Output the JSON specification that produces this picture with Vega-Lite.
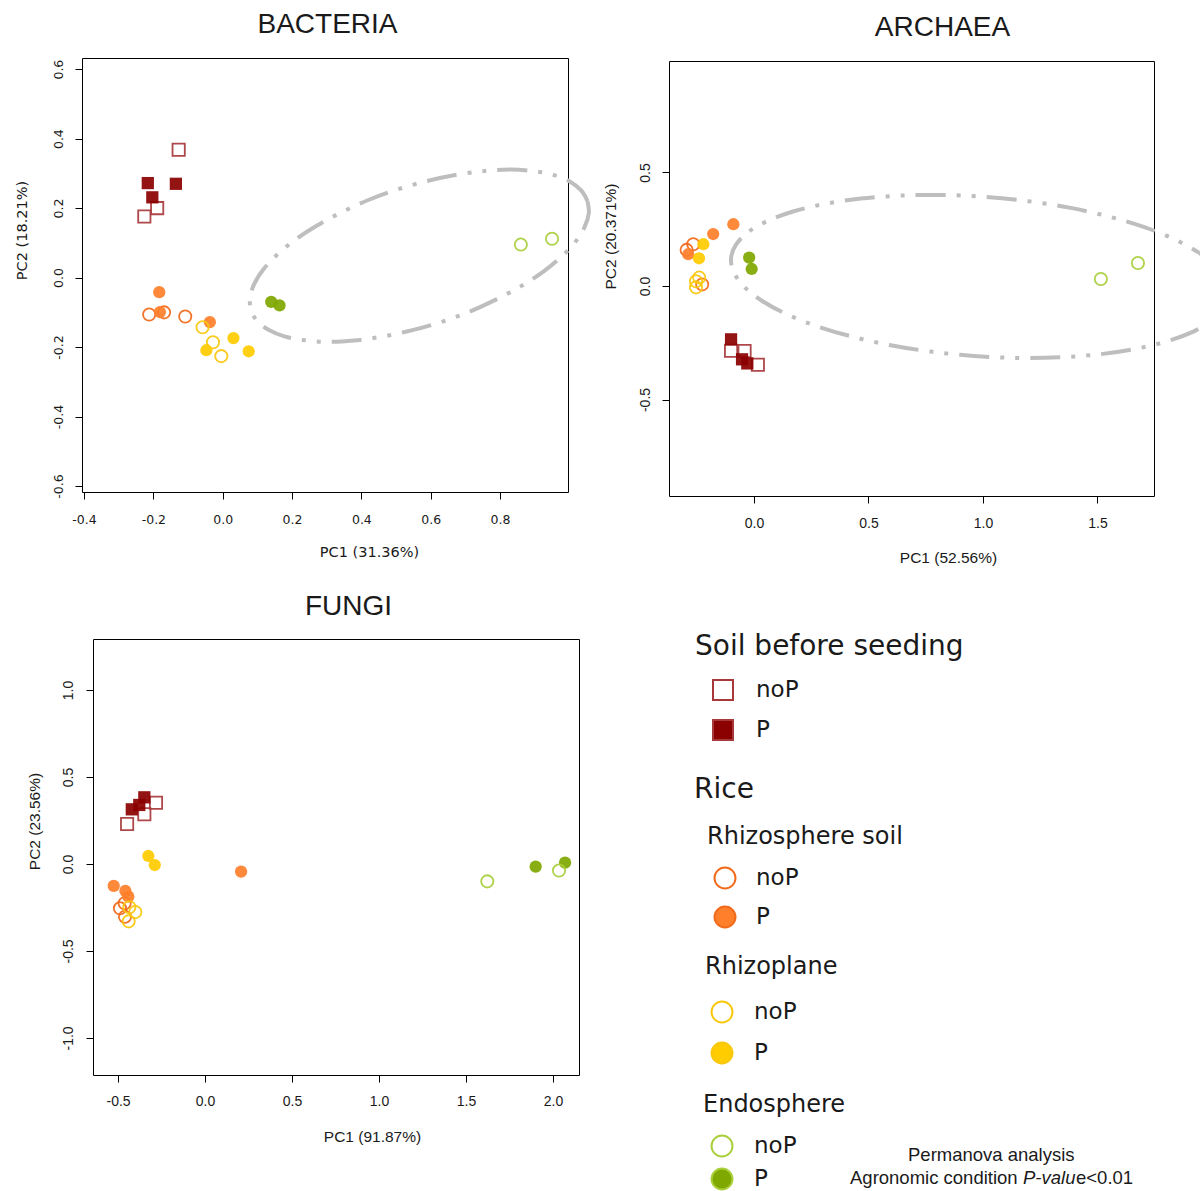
{
  "$schema": "https://vega.github.io/schema/vega-lite/v6.json",
  "width": 1200,
  "height": 1191,
  "padding": 0,
  "autosize": {"type": "none"},
  "background": "white",
  "datasets": {
    "bac": [
      {"x": -0.127, "y": 0.368, "group": "Soil", "cond": "noP"},
      {"x": -0.189, "y": 0.200, "group": "Soil", "cond": "noP"},
      {"x": -0.226, "y": 0.176, "group": "Soil", "cond": "noP"},
      {"x": -0.216, "y": 0.272, "group": "Soil", "cond": "P"},
      {"x": -0.135, "y": 0.270, "group": "Soil", "cond": "P"},
      {"x": -0.203, "y": 0.231, "group": "Soil", "cond": "P"},
      {"x": -0.212, "y": -0.106, "group": "Rhizosphere", "cond": "noP"},
      {"x": -0.169, "y": -0.100, "group": "Rhizosphere", "cond": "noP"},
      {"x": -0.108, "y": -0.112, "group": "Rhizosphere", "cond": "noP"},
      {"x": -0.183, "y": -0.042, "group": "Rhizosphere", "cond": "P"},
      {"x": -0.181, "y": -0.099, "group": "Rhizosphere", "cond": "P"},
      {"x": -0.037, "y": -0.128, "group": "Rhizosphere", "cond": "P"},
      {"x": -0.058, "y": -0.143, "group": "Rhizoplane", "cond": "noP"},
      {"x": -0.028, "y": -0.186, "group": "Rhizoplane", "cond": "noP"},
      {"x": -0.004, "y": -0.226, "group": "Rhizoplane", "cond": "noP"},
      {"x": 0.031, "y": -0.174, "group": "Rhizoplane", "cond": "P"},
      {"x": -0.047, "y": -0.209, "group": "Rhizoplane", "cond": "P"},
      {"x": 0.075, "y": -0.212, "group": "Rhizoplane", "cond": "P"},
      {"x": 0.140, "y": -0.070, "group": "Endosphere", "cond": "P"},
      {"x": 0.164, "y": -0.080, "group": "Endosphere", "cond": "P"},
      {"x": 0.860, "y": 0.095, "group": "Endosphere", "cond": "noP"},
      {"x": 0.950, "y": 0.112, "group": "Endosphere", "cond": "noP"}
    ],
    "arc": [
      {"x": -0.294, "y": 0.159, "group": "Rhizosphere", "cond": "noP"},
      {"x": -0.265, "y": 0.184, "group": "Rhizosphere", "cond": "noP"},
      {"x": -0.226, "y": 0.007, "group": "Rhizosphere", "cond": "noP"},
      {"x": -0.090, "y": 0.272, "group": "Rhizosphere", "cond": "P"},
      {"x": -0.178, "y": 0.229, "group": "Rhizosphere", "cond": "P"},
      {"x": -0.287, "y": 0.140, "group": "Rhizosphere", "cond": "P"},
      {"x": -0.253, "y": 0.021, "group": "Rhizoplane", "cond": "noP"},
      {"x": -0.239, "y": 0.037, "group": "Rhizoplane", "cond": "noP"},
      {"x": -0.253, "y": -0.006, "group": "Rhizoplane", "cond": "noP"},
      {"x": -0.221, "y": 0.184, "group": "Rhizoplane", "cond": "P"},
      {"x": -0.240, "y": 0.122, "group": "Rhizoplane", "cond": "P"},
      {"x": -0.021, "y": 0.125, "group": "Endosphere", "cond": "P"},
      {"x": -0.010, "y": 0.075, "group": "Endosphere", "cond": "P"},
      {"x": 1.515, "y": 0.031, "group": "Endosphere", "cond": "noP"},
      {"x": 1.677, "y": 0.101, "group": "Endosphere", "cond": "noP"},
      {"x": -0.100, "y": -0.285, "group": "Soil", "cond": "noP"},
      {"x": -0.041, "y": -0.286, "group": "Soil", "cond": "noP"},
      {"x": 0.017, "y": -0.347, "group": "Soil", "cond": "noP"},
      {"x": -0.100, "y": -0.235, "group": "Soil", "cond": "P"},
      {"x": -0.052, "y": -0.323, "group": "Soil", "cond": "P"},
      {"x": -0.029, "y": -0.341, "group": "Soil", "cond": "P"}
    ],
    "fun": [
      {"x": -0.282, "y": 0.352, "group": "Soil", "cond": "noP"},
      {"x": -0.349, "y": 0.286, "group": "Soil", "cond": "noP"},
      {"x": -0.448, "y": 0.230, "group": "Soil", "cond": "noP"},
      {"x": -0.349, "y": 0.383, "group": "Soil", "cond": "P"},
      {"x": -0.421, "y": 0.314, "group": "Soil", "cond": "P"},
      {"x": -0.378, "y": 0.339, "group": "Soil", "cond": "P"},
      {"x": -0.489, "y": -0.255, "group": "Rhizosphere", "cond": "noP"},
      {"x": -0.462, "y": -0.226, "group": "Rhizosphere", "cond": "noP"},
      {"x": -0.460, "y": -0.303, "group": "Rhizosphere", "cond": "noP"},
      {"x": 0.207, "y": -0.044, "group": "Rhizosphere", "cond": "P"},
      {"x": -0.525, "y": -0.126, "group": "Rhizosphere", "cond": "P"},
      {"x": -0.458, "y": -0.155, "group": "Rhizosphere", "cond": "P"},
      {"x": -0.441, "y": -0.188, "group": "Rhizosphere", "cond": "P"},
      {"x": -0.435, "y": -0.249, "group": "Rhizoplane", "cond": "noP"},
      {"x": -0.401, "y": -0.276, "group": "Rhizoplane", "cond": "noP"},
      {"x": -0.439, "y": -0.330, "group": "Rhizoplane", "cond": "noP"},
      {"x": -0.326, "y": 0.046, "group": "Rhizoplane", "cond": "P"},
      {"x": -0.289, "y": -0.006, "group": "Rhizoplane", "cond": "P"},
      {"x": 1.900, "y": -0.015, "group": "Endosphere", "cond": "P"},
      {"x": 2.069, "y": 0.008, "group": "Endosphere", "cond": "P"},
      {"x": 2.034, "y": -0.038, "group": "Endosphere", "cond": "noP"},
      {"x": 1.622, "y": -0.100, "group": "Endosphere", "cond": "noP"}
    ],
    "ell_bac": [
      {"i": 0, "x": 1.052, "y": 0.221}, {"i": 1, "x": 1.034, "y": 0.251}, {"i": 2, "x": 1.002, "y": 0.276},
      {"i": 3, "x": 0.956, "y": 0.295}, {"i": 4, "x": 0.899, "y": 0.306}, {"i": 5, "x": 0.831, "y": 0.311},
      {"i": 6, "x": 0.756, "y": 0.307}, {"i": 7, "x": 0.675, "y": 0.296}, {"i": 8, "x": 0.590, "y": 0.278},
      {"i": 9, "x": 0.505, "y": 0.254}, {"i": 10, "x": 0.422, "y": 0.224}, {"i": 11, "x": 0.343, "y": 0.188},
      {"i": 12, "x": 0.271, "y": 0.149}, {"i": 13, "x": 0.208, "y": 0.108}, {"i": 14, "x": 0.156, "y": 0.065},
      {"i": 15, "x": 0.116, "y": 0.022}, {"i": 16, "x": 0.090, "y": -0.020}, {"i": 17, "x": 0.079, "y": -0.059},
      {"i": 18, "x": 0.082, "y": -0.095}, {"i": 19, "x": 0.100, "y": -0.125}, {"i": 20, "x": 0.132, "y": -0.150},
      {"i": 21, "x": 0.178, "y": -0.169}, {"i": 22, "x": 0.235, "y": -0.180}, {"i": 23, "x": 0.303, "y": -0.185},
      {"i": 24, "x": 0.378, "y": -0.181}, {"i": 25, "x": 0.459, "y": -0.170}, {"i": 26, "x": 0.544, "y": -0.152},
      {"i": 27, "x": 0.629, "y": -0.128}, {"i": 28, "x": 0.712, "y": -0.098}, {"i": 29, "x": 0.791, "y": -0.062},
      {"i": 30, "x": 0.863, "y": -0.023}, {"i": 31, "x": 0.926, "y": 0.018}, {"i": 32, "x": 0.978, "y": 0.061},
      {"i": 33, "x": 1.018, "y": 0.104}, {"i": 34, "x": 1.044, "y": 0.146}, {"i": 35, "x": 1.056, "y": 0.185},
      {"i": 36, "x": 1.052, "y": 0.221}
    ],
    "ell_arc": [
      {"i": 0, "x": 2.017, "y": 0.087}, {"i": 1, "x": 1.941, "y": 0.148}, {"i": 2, "x": 1.836, "y": 0.206},
      {"i": 3, "x": 1.705, "y": 0.259}, {"i": 4, "x": 1.553, "y": 0.305}, {"i": 5, "x": 1.383, "y": 0.344},
      {"i": 6, "x": 1.201, "y": 0.373}, {"i": 7, "x": 1.013, "y": 0.392}, {"i": 8, "x": 0.824, "y": 0.401},
      {"i": 9, "x": 0.639, "y": 0.398}, {"i": 10, "x": 0.466, "y": 0.385}, {"i": 11, "x": 0.308, "y": 0.361},
      {"i": 12, "x": 0.171, "y": 0.328}, {"i": 13, "x": 0.058, "y": 0.286}, {"i": 14, "x": -0.026, "y": 0.237},
      {"i": 15, "x": -0.079, "y": 0.181}, {"i": 16, "x": -0.100, "y": 0.122}, {"i": 17, "x": -0.088, "y": 0.060},
      {"i": 18, "x": -0.043, "y": -0.003}, {"i": 19, "x": 0.033, "y": -0.064}, {"i": 20, "x": 0.138, "y": -0.122},
      {"i": 21, "x": 0.269, "y": -0.175}, {"i": 22, "x": 0.421, "y": -0.221}, {"i": 23, "x": 0.591, "y": -0.260},
      {"i": 24, "x": 0.773, "y": -0.289}, {"i": 25, "x": 0.961, "y": -0.308}, {"i": 26, "x": 1.150, "y": -0.317},
      {"i": 27, "x": 1.335, "y": -0.314}, {"i": 28, "x": 1.508, "y": -0.301}, {"i": 29, "x": 1.666, "y": -0.277},
      {"i": 30, "x": 1.803, "y": -0.244}, {"i": 31, "x": 1.916, "y": -0.202}, {"i": 32, "x": 2.000, "y": -0.153}
    ]
  },
  "layer": [
    {
      "data": {"name": "ell_bac"},
      "mark": {"type": "line", "stroke": "#BEBEBE", "strokeWidth": 4, "strokeDash": [30, 11, 4, 11, 4, 11], "interpolate": "cardinal", "strokeCap": "butt"},
      "encoding": {
        "x": {"field": "x", "type": "quantitative", "scale": {"domain": [-0.4058, 0.996], "range": [82, 568], "nice": false, "zero": false},
              "axis": {"orient": "top", "offset": -58, "labels": false, "ticks": false, "title": "BACTERIA", "titleFont": "Liberation Sans", "titleFontSize": 28, "titleX": 327, "titleY": -26, "titleAlign": "center", "titleBaseline": "alphabetic", "titleAngle": 0}},
        "y": {"field": "y", "type": "quantitative", "scale": {"domain": [-0.617, 0.632], "range": [492, 58], "nice": false, "zero": false},
              "axis": {"orient": "right", "offset": -632, "labels": false, "ticks": false, "title": null}},
        "order": {"field": "i", "type": "quantitative"}
      }
    },
    {
      "data": {"name": "bac"},
      "mark": {"type": "point", "size": 150, "strokeWidth": 1.8, "opacity": 0.92},
      "encoding": {
        "x": {"field": "x", "type": "quantitative", "scale": {"domain": [-0.4058, 0.996], "range": [82, 568], "nice": false, "zero": false},
              "axis": {"orient": "bottom", "offset": -699, "values": [-0.4, -0.2, 0, 0.2, 0.4, 0.6, 0.8], "format": ".1f", "labelFont": "DejaVu Sans", "labelFontSize": 12.5, "labelPadding": 20,
                       "title": "PC1 (31.36%)", "titleFont": "DejaVu Sans", "titleFontSize": 14.5, "titleX": 369, "titleY": 64, "titleAlign": "center", "titleBaseline": "alphabetic", "titleAngle": 0}},
        "y": {"field": "y", "type": "quantitative", "scale": {"domain": [-0.617, 0.632], "range": [492, 58], "nice": false, "zero": false},
              "axis": {"orient": "left", "offset": -82, "values": [-0.6, -0.4, -0.2, 0, 0.2, 0.4, 0.6], "format": ".1f", "labelFont": "DejaVu Sans", "labelFontSize": 12.5, "labelAngle": 270, "labelPadding": 17,
                       "title": "PC2 (18.21%)", "titleFont": "DejaVu Sans", "titleFontSize": 14.5, "titleX": -60, "titleY": 230, "titleAngle": 270, "titleAlign": "center", "titleBaseline": "middle"}},
        "shape": {"field": "group", "type": "nominal", "scale": {"domain": ["Soil", "Rhizosphere", "Rhizoplane", "Endosphere"], "range": ["square", "circle", "circle", "circle"]}, "legend": null},
        "fill": {"condition": {"test": "datum.cond === 'P'", "field": "group", "type": "nominal", "scale": {"domain": ["Soil", "Rhizosphere", "Rhizoplane", "Endosphere"], "range": ["#8B0000", "#FF7F2A", "#FFCC00", "#7FA800"]}, "legend": null}, "value": "transparent"},
        "stroke": {"condition": {"test": "datum.cond === 'noP'", "field": "group", "type": "nominal", "scale": {"domain": ["Soil", "Rhizosphere", "Rhizoplane", "Endosphere"], "range": ["#A8393B", "#F26A1B", "#F9C80E", "#A9CF3B"]}, "legend": null}, "value": "transparent"}
      }
    },
    {
      "data": {"name": "ell_arc"},
      "mark": {"type": "line", "stroke": "#BEBEBE", "strokeWidth": 4, "strokeDash": [30, 11, 4, 11, 4, 11], "interpolate": "cardinal", "strokeCap": "butt"},
      "encoding": {
        "x": {"field": "x", "type": "quantitative", "scale": {"domain": [-0.371, 1.747], "range": [669, 1154], "nice": false, "zero": false},
              "axis": {"orient": "top", "offset": -61, "labels": false, "ticks": false, "title": "ARCHAEA", "titleFont": "Liberation Sans", "titleFontSize": 28, "titleX": 942, "titleY": -26, "titleAlign": "center", "titleBaseline": "alphabetic", "titleAngle": 0}},
        "y": {"field": "y", "type": "quantitative", "scale": {"domain": [-0.925, 0.991], "range": [496, 61], "nice": false, "zero": false},
              "axis": {"orient": "right", "offset": -46, "labels": false, "ticks": false, "title": null}},
        "order": {"field": "i", "type": "quantitative"}
      }
    },
    {
      "data": {"name": "arc"},
      "mark": {"type": "point", "size": 150, "strokeWidth": 1.8, "opacity": 0.92},
      "encoding": {
        "x": {"field": "x", "type": "quantitative", "scale": {"domain": [-0.371, 1.747], "range": [669, 1154], "nice": false, "zero": false},
              "axis": {"orient": "bottom", "offset": -695, "values": [0, 0.5, 1, 1.5], "format": ".1f", "labelFont": "Liberation Sans", "labelFontSize": 14, "labelPadding": 20,
                       "title": "PC1 (52.56%)", "titleFont": "Liberation Sans", "titleFontSize": 15.5, "titleX": 948, "titleY": 66, "titleAlign": "center", "titleBaseline": "alphabetic", "titleAngle": 0}},
        "y": {"field": "y", "type": "quantitative", "scale": {"domain": [-0.925, 0.991], "range": [496, 61], "nice": false, "zero": false},
              "axis": {"orient": "left", "offset": -669, "values": [-0.5, 0, 0.5], "format": ".1f", "labelFont": "Liberation Sans", "labelFontSize": 14, "labelAngle": 270, "labelPadding": 17,
                       "title": "PC2 (20.371%)", "titleFont": "Liberation Sans", "titleFontSize": 15.5, "titleX": -59, "titleY": 236, "titleAngle": 270, "titleAlign": "center", "titleBaseline": "middle"}},
        "shape": {"field": "group", "type": "nominal", "scale": {"domain": ["Soil", "Rhizosphere", "Rhizoplane", "Endosphere"], "range": ["square", "circle", "circle", "circle"]}, "legend": null},
        "fill": {"condition": {"test": "datum.cond === 'P'", "field": "group", "type": "nominal", "scale": {"domain": ["Soil", "Rhizosphere", "Rhizoplane", "Endosphere"], "range": ["#8B0000", "#FF7F2A", "#FFCC00", "#7FA800"]}, "legend": null}, "value": "transparent"},
        "stroke": {"condition": {"test": "datum.cond === 'noP'", "field": "group", "type": "nominal", "scale": {"domain": ["Soil", "Rhizosphere", "Rhizoplane", "Endosphere"], "range": ["#A8393B", "#F26A1B", "#F9C80E", "#A9CF3B"]}, "legend": null}, "value": "transparent"}
      }
    },
    {
      "data": {"values": []},
      "mark": {"type": "point"},
      "encoding": {
        "x": {"field": "x", "type": "quantitative", "scale": {"domain": [-0.644, 2.149], "range": [93, 579], "nice": false, "zero": false},
              "axis": {"orient": "top", "offset": -639, "labels": false, "ticks": false, "title": "FUNGI", "titleFont": "Liberation Sans", "titleFontSize": 28, "titleX": 348, "titleY": -25, "titleAlign": "center", "titleBaseline": "alphabetic", "titleAngle": 0}},
        "y": {"field": "y", "type": "quantitative", "scale": {"domain": [-1.213, 1.293], "range": [1075, 639], "nice": false, "zero": false},
              "axis": {"orient": "right", "offset": -621, "labels": false, "ticks": false, "title": null}}
      }
    },
    {
      "data": {"name": "fun"},
      "mark": {"type": "point", "size": 150, "strokeWidth": 1.8, "opacity": 0.92},
      "encoding": {
        "x": {"field": "x", "type": "quantitative", "scale": {"domain": [-0.644, 2.149], "range": [93, 579], "nice": false, "zero": false},
              "axis": {"orient": "bottom", "offset": -116, "values": [-0.5, 0, 0.5, 1, 1.5, 2], "format": ".1f", "labelFont": "Liberation Sans", "labelFontSize": 14, "labelPadding": 19,
                       "title": "PC1 (91.87%)", "titleFont": "Liberation Sans", "titleFontSize": 15.5, "titleX": 372, "titleY": 66, "titleAlign": "center", "titleBaseline": "alphabetic", "titleAngle": 0}},
        "y": {"field": "y", "type": "quantitative", "scale": {"domain": [-1.213, 1.293], "range": [1075, 639], "nice": false, "zero": false},
              "axis": {"orient": "left", "offset": -93, "values": [-1, -0.5, 0, 0.5, 1], "format": ".1f", "labelFont": "Liberation Sans", "labelFontSize": 14, "labelAngle": 270, "labelPadding": 18,
                       "title": "PC2 (23.56%)", "titleFont": "Liberation Sans", "titleFontSize": 15.5, "titleX": -59, "titleY": 821, "titleAngle": 270, "titleAlign": "center", "titleBaseline": "middle"}},
        "shape": {"field": "group", "type": "nominal", "scale": {"domain": ["Soil", "Rhizosphere", "Rhizoplane", "Endosphere"], "range": ["square", "circle", "circle", "circle"]}, "legend": null},
        "fill": {"condition": {"test": "datum.cond === 'P'", "field": "group", "type": "nominal", "scale": {"domain": ["Soil", "Rhizosphere", "Rhizoplane", "Endosphere"], "range": ["#8B0000", "#FF7F2A", "#FFCC00", "#7FA800"]}, "legend": null}, "value": "transparent"},
        "stroke": {"condition": {"test": "datum.cond === 'noP'", "field": "group", "type": "nominal", "scale": {"domain": ["Soil", "Rhizosphere", "Rhizoplane", "Endosphere"], "range": ["#A8393B", "#F26A1B", "#F9C80E", "#A9CF3B"]}, "legend": null}, "value": "transparent"}
      }
    },
    {
      "data": {"values": []},
      "mark": {"type": "point", "shape": "square", "filled": true},
      "encoding": {
        "fill": {"field": "soil", "type": "nominal", "scale": {"domain": ["noP", "P"], "range": ["transparent", "#8B0000"]},
                 "legend": {"title": "Soil before seeding", "legendX": 695, "legendY": 633, "titleFont": "DejaVu Sans", "titleFontSize": 28, "titlePadding": 17.5,
                            "labelFont": "DejaVu Sans", "labelFontSize": 23, "symbolType": "square", "symbolSize": 400, "symbolStrokeColor": "#A8393B", "symbolStrokeWidth": 2, "symbolOpacity": 1,
                            "symbolOffset": 16.5, "labelOffset": 21.5, "rowPadding": 11}}
      }
    },
    {
      "data": {"values": []},
      "mark": {"type": "point"},
      "encoding": {
        "fill": {"field": "rice", "type": "nominal", "scale": {"domain": ["-"], "range": ["transparent"]},
                 "legend": {"title": "Rice", "legendX": 694, "legendY": 776, "titleFont": "DejaVu Sans", "titleFontSize": 28, "labelExpr": "''", "symbolOpacity": 0, "symbolSize": 1}}
      }
    },
    {
      "data": {"values": []},
      "mark": {"type": "point", "shape": "circle", "filled": true},
      "encoding": {
        "fill": {"field": "rhizos", "type": "nominal", "scale": {"domain": ["noP", "P"], "range": ["transparent", "#FF7F2A"]},
                 "legend": {"title": "Rhizosphere soil", "legendX": 707, "legendY": 825, "titleFont": "DejaVu Sans", "titleFontSize": 24, "titlePadding": 17.5,
                            "labelFont": "DejaVu Sans", "labelFontSize": 23, "symbolType": "circle", "symbolSize": 440, "symbolStrokeColor": "#F26A1B", "symbolStrokeWidth": 2, "symbolOpacity": 1,
                            "symbolOffset": 6.5, "labelOffset": 19.5, "rowPadding": 10}}
      }
    },
    {
      "data": {"values": []},
      "mark": {"type": "point", "shape": "circle", "filled": true},
      "encoding": {
        "fill": {"field": "rhizop", "type": "nominal", "scale": {"domain": ["noP", "P"], "range": ["transparent", "#FFCC00"]},
                 "legend": {"title": "Rhizoplane", "legendX": 705, "legendY": 955, "titleFont": "DejaVu Sans", "titleFontSize": 24, "titlePadding": 21.5,
                            "labelFont": "DejaVu Sans", "labelFontSize": 23, "symbolType": "circle", "symbolSize": 440, "symbolStrokeColor": "#F9C80E", "symbolStrokeWidth": 2, "symbolOpacity": 1,
                            "symbolOffset": 5.5, "labelOffset": 20.5, "rowPadding": 12}}
      }
    },
    {
      "data": {"values": []},
      "mark": {"type": "point", "shape": "circle", "filled": true},
      "encoding": {
        "fill": {"field": "endo", "type": "nominal", "scale": {"domain": ["noP", "P"], "range": ["transparent", "#7FA800"]},
                 "legend": {"title": "Endosphere", "legendX": 703, "legendY": 1093, "titleFont": "DejaVu Sans", "titleFontSize": 24, "titlePadding": 17.5,
                            "labelFont": "DejaVu Sans", "labelFontSize": 23, "symbolType": "circle", "symbolSize": 440, "symbolStrokeColor": "#A9CF3B", "symbolStrokeWidth": 2, "symbolOpacity": 1,
                            "symbolOffset": 7.5, "labelOffset": 20.5, "rowPadding": 4}}
      }
    },
    {
      "data": {"values": []},
      "mark": {"type": "point"},
      "encoding": {
        "fill": {"field": "perm1", "type": "nominal", "scale": {"domain": ["-"], "range": ["transparent"]},
                 "legend": {"title": "Permanova analysis", "legendX": 908, "legendY": 1146, "titleFont": "Liberation Sans", "titleFontSize": 18.5, "labelExpr": "''", "symbolOpacity": 0, "symbolSize": 1}}
      }
    },
    {
      "data": {"values": []},
      "mark": {"type": "point"},
      "encoding": {
        "fill": {"field": "perm2", "type": "nominal", "scale": {"domain": ["-"], "range": ["transparent"]},
                 "legend": {"title": "Agronomic condition", "legendX": 850, "legendY": 1169, "titleFont": "Liberation Sans", "titleFontSize": 18.5, "labelExpr": "''", "symbolOpacity": 0, "symbolSize": 1}}
      }
    },
    {
      "data": {"values": []},
      "mark": {"type": "point"},
      "encoding": {
        "fill": {"field": "perm3", "type": "nominal", "scale": {"domain": ["-"], "range": ["transparent"]},
                 "legend": {"title": "P-valu", "legendX": 1023, "legendY": 1169, "titleFont": "Liberation Sans", "titleFontSize": 18.5, "titleFontStyle": "italic", "labelExpr": "''", "symbolOpacity": 0, "symbolSize": 1}}
      }
    },
    {
      "data": {"values": []},
      "mark": {"type": "point"},
      "encoding": {
        "fill": {"field": "perm4", "type": "nominal", "scale": {"domain": ["-"], "range": ["transparent"]},
                 "legend": {"title": "e<0.01", "legendX": 1076, "legendY": 1169, "titleFont": "Liberation Sans", "titleFontSize": 18.5, "labelExpr": "''", "symbolOpacity": 0, "symbolSize": 1}}
      }
    }
  ],
  "resolve": {
    "scale": {"x": "independent", "y": "independent", "fill": "independent", "stroke": "independent", "shape": "independent"},
    "axis": {"x": "independent", "y": "independent"},
    "legend": {"fill": "independent", "stroke": "independent", "shape": "independent"}
  },
  "config": {
    "view": {"stroke": null},
    "locale": {"number": {"decimal": ".", "thousands": ",", "grouping": [3], "currency": ["$", ""], "minus": "-"}},
    "axis": {"grid": false, "domainColor": "#000000", "tickColor": "#000000", "labelColor": "#1a1a1a", "titleColor": "#1a1a1a", "tickSize": 7, "labelFlush": false, "labelOverlap": false, "labelBound": false, "titleFontWeight": "normal", "labelAlign": "center", "labelBaseline": "middle"},
    "legend": {"orient": "none", "padding": 0, "titleFontWeight": "normal", "titleLimit": 0, "labelLimit": 0, "titleColor": "#1a1a1a", "labelColor": "#1a1a1a", "titleAnchor": "start", "titleAlign": "left"}
  }
}
